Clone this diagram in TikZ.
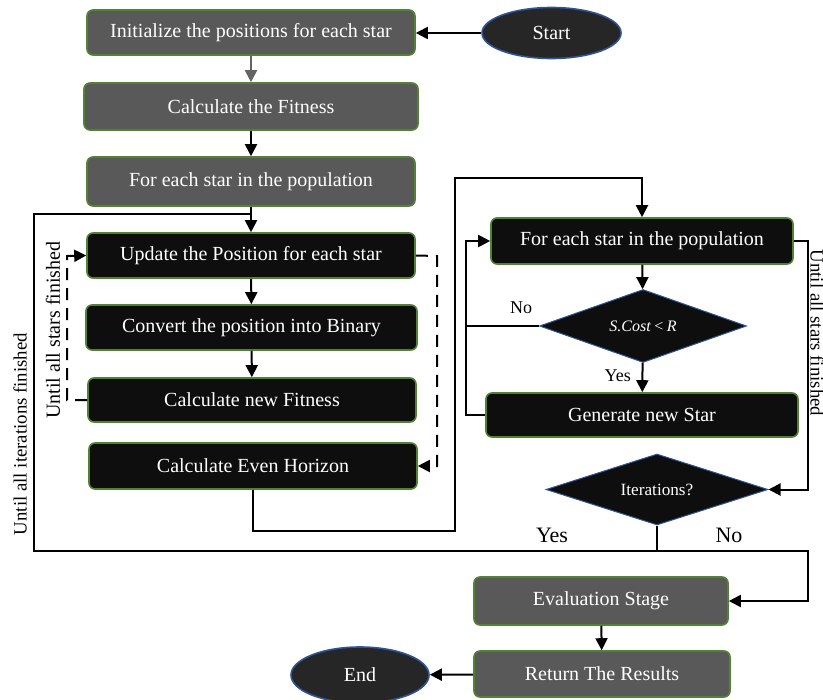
\documentclass[tikz,border=0pt]{standalone}
\usepackage{fontspec}
\setmainfont{Liberation Serif}
\usetikzlibrary{shapes.geometric,arrows.meta}
\definecolor{boxgray}{RGB}{89,89,89}
\definecolor{boxblack}{RGB}{14,14,14}
\definecolor{edgegreen}{RGB}{84,130,53}
\definecolor{ellfill}{RGB}{38,38,38}
\definecolor{edgeblue}{RGB}{47,85,151}
\definecolor{arrgray}{RGB}{100,100,100}
\tikzset{
  x=0.5pt, y=-0.5pt,
  base/.style={rounded corners=3pt, draw=edgegreen, line width=0.8pt, text=white, inner sep=0pt,
    font=\fontsize{10}{12}\selectfont, align=center},
  graybox/.style={base, fill=boxgray},
  blackbox/.style={base, fill=boxblack},
  term/.style={ellipse, draw=edgeblue, line width=0.8pt, fill=ellfill, text=white, inner sep=0pt,
    font=\fontsize{10}{12}\selectfont},
  decision/.style={diamond, shape aspect=3, draw=edgeblue, line width=0.5pt, fill=boxblack, text=white, inner sep=0pt},
  conn/.style={line width=1pt, draw=black},
  arr/.style={conn, -{Triangle[length=6pt,width=6pt]}},
  dasharr/.style={arr, dash pattern=on 6pt off 4pt},
  lbl/.style={font=\fontsize{9}{11}\selectfont},
  biglbl/.style={font=\fontsize{11}{13}\selectfont},
  sidelbl/.style={font=\fontsize{9.4}{11}\selectfont},
}
\begin{document}
\begin{tikzpicture}
\useasboundingbox (0,0) rectangle (823,700);

% nodes
\node[graybox, minimum width=164pt, minimum height=22.5pt] (b1) at (251,32.5) {Initialize the positions for each star};
\node[graybox, minimum width=167pt, minimum height=23.5pt] (b2) at (251,106.5) {Calculate the Fitness};
\node[graybox, minimum width=164pt, minimum height=24.5pt] (b3) at (251,181.5) {For each star in the population};
\node[blackbox, minimum width=164pt, minimum height=22.5pt] (b4) at (251,255.5) {Update the Position for each star};
\node[blackbox, minimum width=165.5pt, minimum height=22.5pt] (b5) at (251.5,327.5) {Convert the position into Binary};
\node[blackbox, minimum width=164pt, minimum height=22pt] (b6) at (252,400) {Calculate new Fitness};
\node[blackbox, minimum width=164pt, minimum height=23pt] (b7) at (253,466) {Calculate Even Horizon};
\node[blackbox, minimum width=151pt, minimum height=23pt] (b8) at (642,241) {For each star in the population};
\node[decision, minimum width=103.5pt, minimum height=36.5pt, font=\fontsize{8}{10}\selectfont\itshape] (d1) at (643,326) {S.Cost\,<\,R};
\node[blackbox, minimum width=156pt, minimum height=22pt] (b9) at (642,415) {Generate new Star};
\node[decision, minimum width=111pt, minimum height=35.5pt, font=\fontsize{8.6}{10}\selectfont] (d2) at (657,489.5) {Iterations?};
\node[graybox, minimum width=127pt, minimum height=24pt] (b10) at (601,601) {Evaluation Stage};
\node[graybox, minimum width=128pt, minimum height=23pt] (b11) at (602,674) {Return The Results};
\node[term, minimum width=69.5pt, minimum height=25.5pt] (start) at (551.5,33) {Start};
\node[term, minimum width=69pt, minimum height=28pt] (end) at (360,675) {End};

% side labels
\node[sidelbl, rotate=90] (litr) at (20,434) {Until all iterations finished};
\node[sidelbl, rotate=90, font=\fontsize{10}{12}\selectfont] (lstars) at (53,330) {Until all stars finished};
\node[sidelbl, rotate=-90, anchor=base, inner sep=0pt] (rstars) at (810.5,333) {Until all stars finished};

% junction coordinates
\coordinate (jtop) at (251,214);
\coordinate (jd2) at (657,551);
\coordinate (jno) at (466,326);

% main flow
\draw[arr] (start) -- (b1.east |- start.west);
\draw[arr, draw=arrgray] (b1) -- (b2);
\draw[arr] (b2) -- (b3);
\draw[arr] (b3) -- (b4);
\draw[arr] (b4) -- (b5);
\draw[arr] (b5) -- (b6);

% inner dashed loops
\draw[dasharr] (b6.west) -- (67,400) -- (67,256) -- (b4.west);
\draw[dasharr] (b4.east) -- (437,256) -- (437,466) -- (b7.east);

% to right column
\draw[arr] (b7.south) -- (253,531) -- (455,531) -- (455,178) -- (642,178) -- (b8.north);
\draw[arr] (b8) -- (d1);
\draw[arr] (d1) -- node[lbl, left=2pt, pos=0.45] (yes1) {Yes} (b9);
\draw[conn] (d1.west) -- (jno);
\node[lbl] (no1) at (521,308) {No};
\draw[arr] (b9.west) -- (466,415) -- (466,241) -- (b8.west);
\draw[arr] (b8.east) -- (808,241) -- (808,489.5) -- (d2.east);

% iterations outcome
\draw[conn] (d2.south) -- (jd2);
\draw[conn] (jd2) -- (34,551) -- (34,214) -- (jtop);
\draw[arr] (jd2) -- (808,551) -- (808,601) -- (b10.east);
\node[biglbl] (yes2) at (552,535) {Yes};
\node[biglbl] (no2) at (729,535) {No};

% end
\draw[arr] (b10) -- (b11);
\draw[arr] (b11) -- (end);
\end{tikzpicture}
\end{document}
